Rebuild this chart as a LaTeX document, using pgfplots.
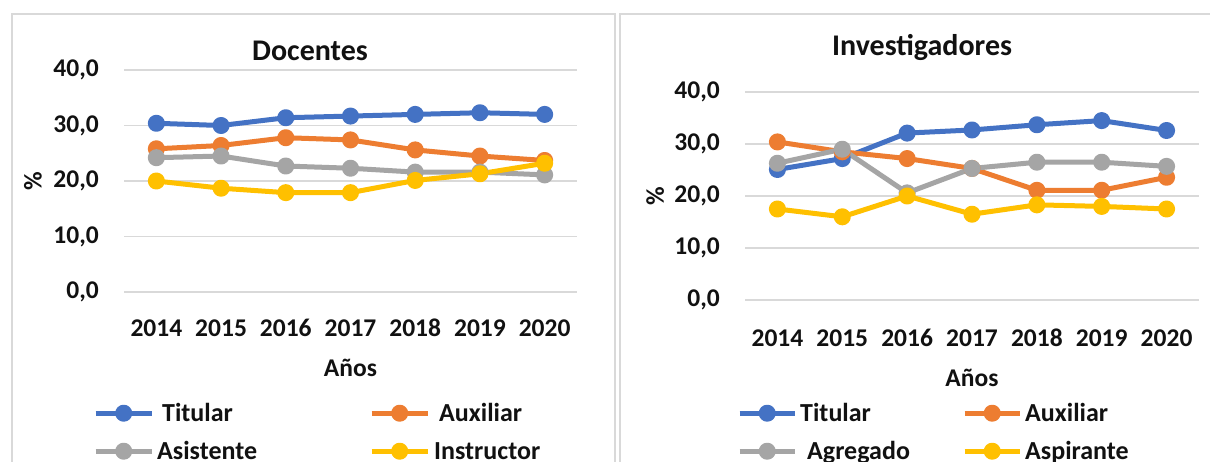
\documentclass[border=0pt]{standalone}
\usepackage{fontspec}
\setmainfont{Carlito}
\usepackage{pgfplots}
\pgfplotsset{compat=1.18}

\definecolor{sBlue}{HTML}{4472C4}
\definecolor{sOrange}{HTML}{ED7D31}
\definecolor{sGray}{HTML}{A5A5A5}
\definecolor{sYellow}{HTML}{FFC000}
\definecolor{gridgray}{HTML}{D9D9D9}
\definecolor{framegray}{HTML}{D9D9D9}
\definecolor{ink}{HTML}{111111}

\newcommand{\tickfont}{\fontsize{25.5}{30}\selectfont\bfseries}
\newcommand{\titlefont}{\fontsize{30}{36}\selectfont\bfseries}

\pgfplotsset{
  panel/.style={
    scale only axis,
    anchor=south west,
    xmin=-0.5, xmax=6.5,
    ymin=0, ymax=40,
    xtick={0,...,6},
    xticklabels={2014,2015,2016,2017,2018,2019,2020},
    ytick={0,10,20,30,40},
    yticklabel={\pgfmathprintnumber[fixed,fixed zerofill,precision=1,use comma,assume math mode=true]{\tick}},
    axis line style={draw=none},
    major tick length=0pt,
    ymajorgrids,
    grid style={gridgray, line width=1.3pt},
    tick label style={font=\tickfont, text=ink},
    yticklabel style={anchor=east, inner sep=0pt, xshift=-25pt},
    label style={font=\tickfont, text=ink},
    xlabel={Años},
    ylabel={\%},
    title style={font=\titlefont, text=ink, anchor=base},
    legend columns=2,
    legend cell align=left,
    legend image code/.code={%
      \draw[mark repeat=2,mark phase=2] plot coordinates {(0pt,0pt) (28pt,0pt) (56pt,0pt)};},
    legend style={
      anchor=north west, draw=none, fill=none, inner sep=0pt,
      row sep=14pt, column sep=0pt,
      font=\fontsize{26}{30}\selectfont\bfseries, text=ink,
      nodes={text height=20pt, text depth=4pt, inner ysep=0pt, inner xsep=0pt, anchor=west},
    },
    every axis plot/.append style={line width=5pt, line join=round, mark=*, mark size=6pt},
  },
}

\begin{document}
\begin{tikzpicture}[x=1pt,y=1pt]
\useasboundingbox (0pt,0pt) rectangle (1210pt,461pt);
\begin{scope}
\clip (0pt,0pt) rectangle (1210pt,461pt);
\fill[white] (0pt,0pt) rectangle (1210pt,461pt);
% panel frames
\draw[framegray, line width=1.5pt] (12pt,-10pt) -- (12pt,447pt) -- (615pt,447pt) -- (615pt,-10pt);
\draw[framegray, line width=1.5pt] (620pt,-10pt) -- (620pt,447pt) -- (1220pt,447pt);

% Docentes
\begin{axis}[panel,
  at={(124pt,169pt)}, width=453pt, height=222pt,
  title={Docentes},
  title style={at={(axis description cs:0.4106,1.018)}},
  xticklabel style={anchor=base, yshift=-44pt},
  xlabel style={at={(axis description cs:0.5,-0.342)}, anchor=center},
  ylabel style={at={(axis description cs:-0.201,0.5)}, anchor=center},
  legend style={at={(axis description cs:-0.0684,-0.491)},
    nodes={text width=215pt}},
]
\addplot[sBlue, mark options={fill=sBlue}] coordinates
  {(0,30.4) (1,30.0) (2,31.4) (3,31.7) (4,32.0) (5,32.3) (6,32.0)};
\addlegendentry{\hspace*{8pt}Titular}
\addplot[sOrange, mark options={fill=sOrange}] coordinates
  {(0,25.8) (1,26.4) (2,27.8) (3,27.4) (4,25.6) (5,24.5) (6,23.7)};
\addlegendentry{\hspace*{9pt}Auxiliar}
\addplot[sGray, mark options={fill=sGray}] coordinates
  {(0,24.2) (1,24.5) (2,22.7) (3,22.3) (4,21.6) (5,21.6) (6,21.1)};
\addlegendentry{\hspace*{3pt}Asistente}
\addplot[sYellow, mark options={fill=sYellow}] coordinates
  {(0,20.0) (1,18.7) (2,17.9) (3,17.9) (4,20.1) (5,21.3) (6,23.2)};
\addlegendentry{\hspace*{4pt}Instructor}
\end{axis}

% Investigadores
\begin{axis}[panel,
  at={(745pt,161pt)}, width=454pt, height=208pt,
  title={Investigadores},
  title style={at={(axis description cs:0.390,1.149)}},
  xticklabel style={anchor=base, yshift=-46pt},
  xlabel style={at={(axis description cs:0.5,-0.375)}, anchor=center},
  ylabel style={at={(axis description cs:-0.198,0.5)}, anchor=center},
  legend style={at={(axis description cs:-0.0176,-0.4856)},
    nodes={text width=165pt}},
  legend image code/.code={%
      \draw[mark repeat=2,mark phase=2] plot coordinates {(0pt,0pt) (27.5pt,0pt) (55pt,0pt)};},
]
\addplot[sBlue, mark options={fill=sBlue}] coordinates
  {(0,25.1) (1,27.2) (2,32.1) (3,32.7) (4,33.7) (5,34.5) (6,32.6)};
\addlegendentry{\hspace*{3pt}Titular}
\addplot[sOrange, mark options={fill=sOrange}] coordinates
  {(0,30.4) (1,28.5) (2,27.2) (3,25.3) (4,21.1) (5,21.1) (6,23.6)};
\addlegendentry{\hspace*{3pt}Auxiliar}
\addplot[sGray, mark options={fill=sGray}] coordinates
  {(0,26.3) (1,29.0) (2,20.6) (3,25.3) (4,26.5) (5,26.5) (6,25.7)};
\addlegendentry{\hspace*{10pt}Agregado}
\addplot[sYellow, mark options={fill=sYellow}] coordinates
  {(0,17.5) (1,16.0) (2,20.0) (3,16.5) (4,18.3) (5,18.0) (6,17.5)};
\addlegendentry{\hspace*{3pt}Aspirante}
\end{axis}
\end{scope}
\end{tikzpicture}
\end{document}
